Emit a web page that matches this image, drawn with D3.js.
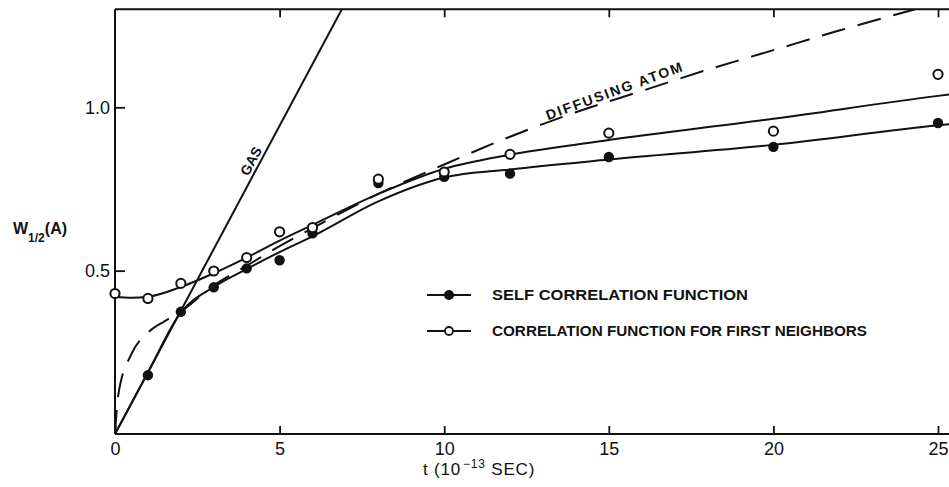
<!DOCTYPE html>
<html>
<head>
<meta charset="utf-8">
<script src="https://cdn.jsdelivr.net/npm/d3@7"></script>
<style>
  body { margin: 0; background: #fff; }
  svg { display: block; }
  text { font-family: "Liberation Sans", Arial, sans-serif; fill: #111; }
</style>
</head>
<body>
<div id="chart"></div>
<script>
// measured points (t in 1e-13 s, W in A)
const tSelf = [1, 2, 3, 4, 5, 6, 8, 10, 12, 15, 20, 25];
const wSelf = [0.18, 0.374, 0.449, 0.507, 0.532, 0.614, 0.768, 0.787, 0.797, 0.848, 0.879, 0.952];
const tNeighbor = [0, 1, 2, 3, 4, 5, 6, 8, 10, 12, 15, 20, 25];
const wNeighbor = [0.43, 0.415, 0.461, 0.499, 0.54, 0.619, 0.632, 0.78, 0.802, 0.856, 0.921, 0.927, 1.101];

// drawn curves
const fitSelfT = [0, 1, 2, 3, 4, 5, 6, 8, 10, 12, 15, 20, 25, 25.8];
const fitSelfW = [0, 0.188, 0.372, 0.45, 0.505, 0.557, 0.605, 0.712, 0.785, 0.81, 0.84, 0.885, 0.945, 0.953];
const fitNeighborT = [0, 0.5, 1, 2, 3, 4, 5, 6, 8, 10, 12, 15, 20, 25, 25.8];
const fitNeighborW = [0.42, 0.417, 0.42, 0.45, 0.492, 0.54, 0.592, 0.64, 0.735, 0.812, 0.855, 0.9, 0.965, 1.035, 1.045];
const diffT = [0, 0.1, 0.5, 1, 1.5, 2, 3, 4, 5, 6, 8, 10, 12, 14, 16, 18, 20, 22, 24.3];
const diffW = [0, 0.12, 0.245, 0.31, 0.345, 0.375, 0.455, 0.515, 0.575, 0.63, 0.735, 0.825, 0.91, 0.985, 1.05, 1.115, 1.175, 1.235, 1.3];
const gasT = [0, 6.89];
const gasW = [0, 1.3];

const xTicks = [0, 5, 10, 15, 20, 25];
const yTicks = [0.5, 1.0];
const legendLabels = ["SELF  CORRELATION  FUNCTION", "CORRELATION FUNCTION FOR FIRST NEIGHBORS"];

(function () {
  const width = 949, height = 487;
  const plotLeft = 115, plotTop = 9.3, plotBottom = 434;

  const svg = d3.select("#chart").append("svg")
    .attr("width", width)
    .attr("height", height);

  const x = d3.scaleLinear().domain([0, 25]).range([plotLeft, 938]);
  const y = d3.scaleLinear().domain([0, 1.3]).range([plotBottom, plotTop]);

  svg.append("clipPath").attr("id", "plot")
    .append("rect").attr("x", plotLeft).attr("y", plotTop)
    .attr("width", width - plotLeft).attr("height", plotBottom - plotTop);

  // axes (inward ticks)
  const gx = svg.append("g").attr("transform", `translate(0,${plotBottom})`)
    .call(d3.axisBottom(x).tickValues(xTicks).tickSize(-8).tickSizeOuter(0).tickPadding(8));
  const gt = svg.append("g").attr("transform", `translate(0,${plotTop})`)
    .call(d3.axisTop(x).tickValues(xTicks.slice(1)).tickSize(-8).tickSizeOuter(0).tickFormat(""));
  const gy = svg.append("g").attr("transform", `translate(${plotLeft},0)`)
    .call(d3.axisLeft(y).tickValues(yTicks).tickSize(-10).tickSizeOuter(0).tickPadding(5).tickFormat(d3.format(".1f")));

  [gx, gt, gy].forEach(g => {
    g.select(".domain").remove();
    g.selectAll("line").attr("stroke", "#111").attr("stroke-width", 1.8);
    g.selectAll("text").attr("font-size", 18).attr("fill", "#111")
      .style("font-family", "'Liberation Sans', Arial, sans-serif");
  });

  // frame
  const frame = svg.append("g").attr("stroke", "#111").attr("stroke-width", 2).attr("fill", "none");
  frame.append("line").attr("x1", plotLeft).attr("x2", width).attr("y1", plotBottom).attr("y2", plotBottom);
  frame.append("line").attr("x1", plotLeft).attr("x2", width).attr("y1", plotTop).attr("y2", plotTop);
  frame.append("line").attr("x1", plotLeft).attr("x2", plotLeft).attr("y1", plotTop).attr("y2", plotBottom);

  const line = d3.line().x(d => x(d[0])).y(d => y(d[1])).curve(d3.curveMonotoneX);
  const zip = (a, b) => a.map((v, i) => [v, b[i]]);

  const plot = svg.append("g").attr("clip-path", "url(#plot)")
    .attr("fill", "none").attr("stroke", "#111").attr("stroke-width", 2);

  plot.append("path").attr("d", d3.line().x(d => x(d[0])).y(d => y(d[1]))(zip(gasT, gasW)));
  plot.append("path").attr("d", line(zip(diffT, diffW))).attr("stroke-dasharray", "24,13");
  plot.append("path").attr("d", line(zip(fitSelfT, fitSelfW)));
  plot.append("path").attr("d", line(zip(fitNeighborT, fitNeighborW)));

  // points
  svg.append("g").selectAll("circle")
    .data(zip(tSelf, wSelf))
    .join("circle")
    .attr("cx", d => x(d[0])).attr("cy", d => y(d[1])).attr("r", 5.2)
    .attr("fill", "#111");

  svg.append("g").selectAll("circle")
    .data(zip(tNeighbor, wNeighbor))
    .join("circle")
    .attr("cx", d => x(d[0])).attr("cy", d => y(d[1])).attr("r", 4.6)
    .attr("fill", "#fff").attr("stroke", "#111").attr("stroke-width", 2);

  // curve labels
  svg.append("text")
    .attr("transform", "translate(251,161) rotate(-62)")
    .attr("text-anchor", "middle").attr("dy", "0.35em")
    .attr("font-size", 14).attr("font-weight", "bold")
    .text("GAS");

  svg.append("text")
    .attr("transform", "translate(614,91) rotate(-20)")
    .attr("text-anchor", "middle").attr("dy", "0.35em")
    .attr("font-size", 14).attr("font-weight", "bold")
    .attr("textLength", 144).attr("lengthAdjust", "spacing")
    .text("DIFFUSING  ATOM");

  // legend
  const legend = svg.append("g");
  legendLabels.forEach((label, i) => {
    const ly = i === 0 ? 295 : 331;
    const g = legend.append("g");
    g.append("line").attr("x1", 427).attr("x2", 471).attr("y1", ly).attr("y2", ly)
      .attr("stroke", "#111").attr("stroke-width", 2);
    g.append("circle").attr("cx", 449).attr("cy", ly).attr("r", i === 0 ? 5 : 4)
      .attr("fill", i === 0 ? "#111" : "#fff").attr("stroke", "#111").attr("stroke-width", i === 0 ? 0 : 1.8);
    g.append("text").attr("x", 492).attr("y", ly + 5)
      .attr("font-size", 14).attr("font-weight", "bold")
      .attr("textLength", i === 0 ? 256 : 375).attr("lengthAdjust", "spacingAndGlyphs")
      .text(label);
  });

  // axis titles
  const yl = svg.append("text").attr("x", 13).attr("y", 234).attr("font-size", 16).attr("font-weight", "bold");
  yl.append("tspan").text("W");
  yl.append("tspan").attr("dy", 8).attr("font-size", 12).text("1/2");
  yl.append("tspan").attr("dy", -8).attr("font-size", 16).text("(A)");

  const xl = svg.append("text").attr("x", 423).attr("y", 475).attr("font-size", 17)
    .attr("letter-spacing", 0.8);
  xl.append("tspan").text("t (10");
  xl.append("tspan").attr("dx", 2).attr("dy", -7).attr("font-size", 12).text("\u221213");
  xl.append("tspan").attr("dy", 7).attr("font-size", 17).text(" SEC)");
})();
</script>
</body>
</html>
